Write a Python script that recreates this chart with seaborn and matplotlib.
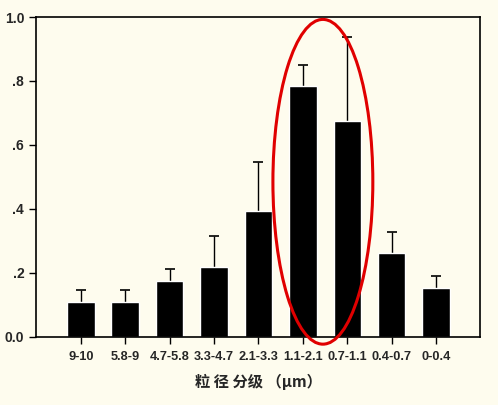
import matplotlib
matplotlib.use("Agg")
import matplotlib.pyplot as plt
from matplotlib.patches import Ellipse
import numpy as np
import pandas as pd
import seaborn as sb

# particle size classes (um) and mean fraction, upper error
size_classes = ['9-10', '5.8-9', '4.7-5.8', '3.3-4.7', '2.1-3.3', '1.1-2.1', '0.7-1.1', '0.4-0.7', '0-0.4']
mean_values = [0.109, 0.109, 0.175, 0.219, 0.394, 0.784, 0.675, 0.262, 0.153]
upper_err = [0.038, 0.038, 0.037, 0.097, 0.153, 0.066, 0.263, 0.066, 0.037]
y_ticks = [0.0, 0.2, 0.4, 0.6, 0.8, 1.0]
y_tick_labels = ['0.0', '.2', '.4', '.6', '.8', '1.0']

bg = '#fefcee'
sb.set_style('ticks')
plt.rcParams['font.family'] = ['Liberation Sans', 'DejaVu Sans']

df = pd.DataFrame({'size': size_classes, 'value': mean_values, 'err': upper_err})

fig = plt.figure(figsize=(4.98, 4.05), dpi=100, facecolor=bg)
ax = fig.add_axes([0.0723, 0.168, 0.8917, 0.79])
ax.set_facecolor(bg)

sb.barplot(data=df, x='size', y='value', color='black', width=0.62,
           errorbar=None, saturation=1, ax=ax, zorder=2)
xpos = np.arange(len(size_classes))
eb = ax.errorbar(xpos, df['value'], yerr=[np.zeros(len(df)), df['err']], fmt='none',
                 ecolor='black', elinewidth=1, capsize=3.3, capthick=1.2, zorder=1)
# only the upper caps are wanted
for cap in eb[1]:
    if np.allclose(cap.get_ydata(), df['value']):
        cap.set_visible(False)

ax.set_xlim(-1.01, 8.99)
ax.set_ylim(0, 1.0)
ax.set_yticks(y_ticks)
ax.set_yticklabels(y_tick_labels, fontsize=10, fontweight='bold')
ax.set_xticks(xpos)
ax.set_xticklabels(size_classes, fontsize=9.2, fontweight='bold')
ax.tick_params(axis='both', direction='out', length=5, width=1, color='black')
ax.tick_params(axis='x', pad=5)
for s in ax.spines.values():
    s.set_visible(True)
    s.set_linewidth(1.2)
    s.set_color('black')

ax.set_ylabel('')
ax.set_xlabel('粒 径 分级 （μm）', fontsize=11, fontweight='bold',
              family=['Noto Sans CJK SC', 'DejaVu Sans'], labelpad=8)

# red ellipse highlighting the two largest classes
ell = Ellipse((5.45, 0.485), 2.25, 1.015, fill=False, edgecolor='#e00000',
              linewidth=2.2, clip_on=False, zorder=5)
ax.add_patch(ell)

fig.savefig('out.png', dpi=100, facecolor=bg)
